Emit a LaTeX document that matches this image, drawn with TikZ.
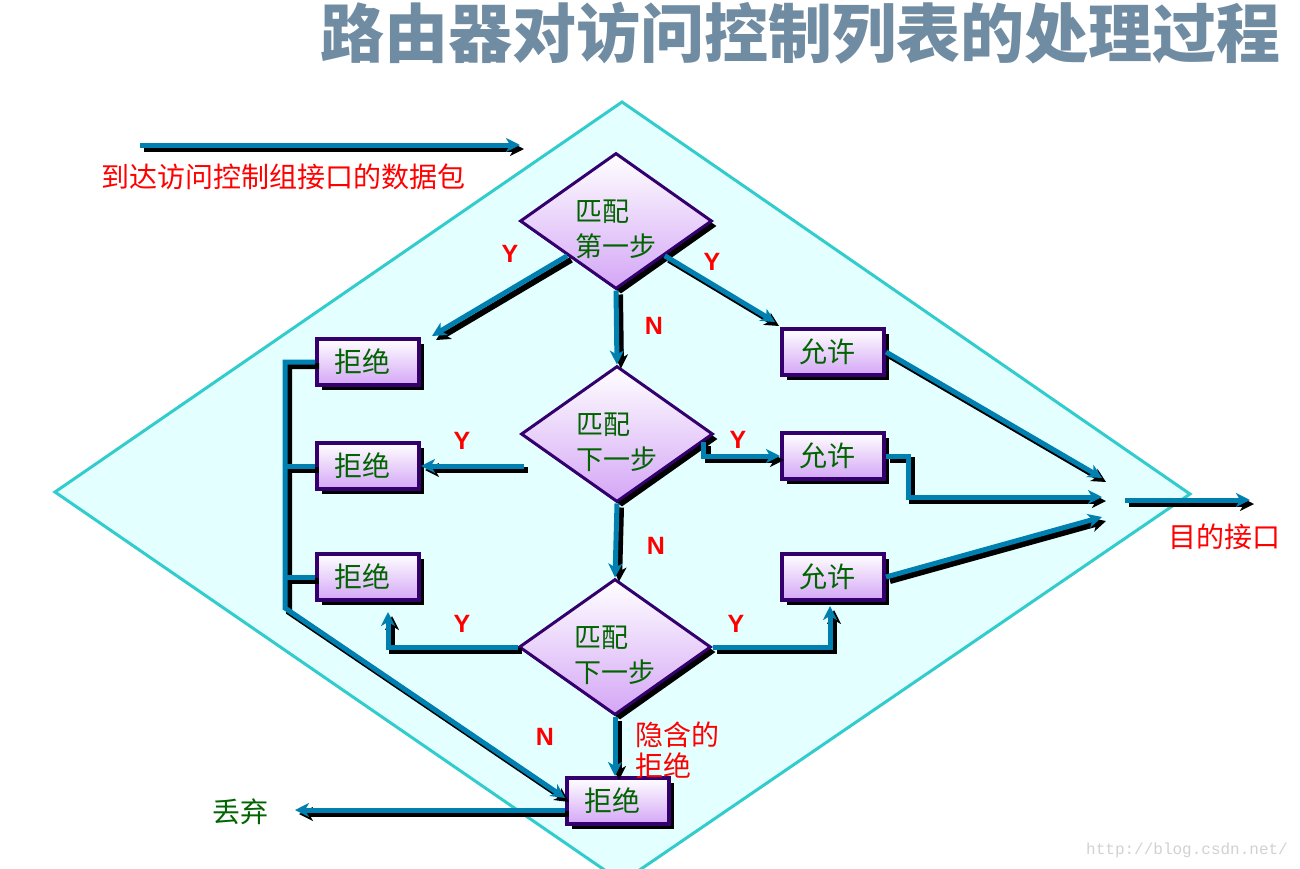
\documentclass[tikz,border=0pt]{standalone}
\usepackage{fontspec}
\usepackage{tikz}
\usetikzlibrary{shapes.geometric,shadows,arrows.meta,calc}
\newfontfamily\cjk{Noto Sans CJK SC}
\newfontfamily\lat{Liberation Sans}
\newfontfamily\wmfont{Liberation Mono}
\definecolor{flowblue}{RGB}{0,128,176}
\definecolor{boxpurple}{RGB}{51,0,110}
\definecolor{boxlilac}{RGB}{212,166,246}
\definecolor{leafgreen}{RGB}{0,100,0}
\definecolor{paleaqua}{RGB}{228,255,255}
\definecolor{edgeaqua}{RGB}{51,204,204}
\definecolor{titlegray}{RGB}{112,140,162}

\tikzset{
  test/.style={diamond,draw=boxpurple,line width=3pt,top color=white,bottom color=boxlilac,
    minimum width=192pt,minimum height=136pt,inner sep=0pt,
    drop shadow={shadow xshift=5pt,shadow yshift=-5pt,fill=black,opacity=1}},
  testtext/.style={align=left,text=leafgreen,font=\cjk\fontsize{27}{35}\selectfont,yshift=-8pt},
  verdict/.style={rectangle,draw=boxpurple,line width=4pt,top color=white,bottom color=boxlilac,
    minimum width=102pt,minimum height=46pt,inner sep=0pt,text=leafgreen,
    font=\cjk\fontsize{28}{28}\selectfont,
    drop shadow={shadow xshift=5pt,shadow yshift=-5pt,fill=black,opacity=1}},
  flow/.style={line width=5pt,draw=flowblue,-{Stealth[length=14pt,width=14pt,inset=4pt]},
    preaction={draw=black,line width=6pt,transform canvas={shift={(4pt,-4pt)}}}},
  bus/.style={line width=5pt,draw=flowblue,
    preaction={draw=black,line width=6pt,transform canvas={shift={(4pt,-4pt)}}}},
  yn/.style={text=red,font=\lat\bfseries\fontsize{25}{25}\selectfont},
  note/.style={text=red,font=\cjk\fontsize{28}{31}\selectfont},
}

\begin{document}
\begin{tikzpicture}[x=1pt,y=-1pt]
  \useasboundingbox (0,0) rectangle (1300,868);
  % Frame
  \begin{scope}
    \clip (0,0) rectangle (1300,868);
    \draw[edgeaqua,fill=paleaqua,line width=3pt] (622,102) -- (1190,494) -- (622,882) -- (55,492) -- cycle;
  \end{scope}
  % Title
  \node[text=titlegray,font=\cjk\bfseries\fontsize{64}{64}\selectfont] (title) at (800,33) {路由器对访问控制列表的处理过程};
  % Tests
  \node[test,label={[testtext]center:{匹配\\第一步}}] (d1) at (616,221) {};
  \node[test,label={[testtext]center:{匹配\\下一步}}] (d2) at (617,434) {};
  \node[test,label={[testtext]center:{匹配\\下一步}}] (d3) at (615,647) {};
  % Verdicts
  \node[verdict] (r1) at (368,362) {拒绝\hspace*{12pt}};
  \node[verdict] (r2) at (368,466) {拒绝\hspace*{12pt}};
  \node[verdict] (r3) at (368,577) {拒绝\hspace*{12pt}};
  \node[verdict] (r4) at (618,801) {拒绝\hspace*{12pt}};
  \node[verdict] (a1) at (833,352) {允许\hspace*{12pt}};
  \node[verdict] (a2) at (833,456) {允许\hspace*{12pt}};
  \node[verdict] (a3) at (833,577) {允许\hspace*{12pt}};
  % Free ends
  \coordinate (src) at (140,145);
  \coordinate (entry) at (520,145);
  \coordinate (tgt1) at (1102,478);
  \coordinate (jog) at (908,497);
  \coordinate (tgt2) at (1102,497);
  \coordinate (tgt3) at (1102,517);
  \coordinate (gate) at (1125,500);
  \coordinate (exit) at (1250,500);
  \coordinate (bus) at (285,608);
  \coordinate (dropend) at (295,810);
  % Flows
  \draw[flow] (src) -- (entry);
  \draw[flow] (d1.south) -- (d2.north);
  \draw[flow] (d1.south west) -- ($(r1.north east)+(11,-1)$);
  \draw[flow] (d1.south east) -- ($(a1.north west)+(-5,-5)$);
  \draw[flow] ($(d2.west |- r2.east)+(4,0)$) -- (r2.east);
  \draw[flow] ($(d2.east)+(-11,8)$) |- (a2.west);
  \draw[flow] (d2.south) -- (d3.north);
  \draw[flow] (d3.west) -| ($(r3.south)+(20,10)$);
  \draw[flow] (d3.east) -| ($(a3.south)+(-3,4)$);
  \draw[flow] (d3.south) -- (d3.south |- r4.north);
  \draw[flow] (a1.east) -- (tgt1);
  \draw[flow] (a2.east) -| (jog) -- (tgt2);
  \draw[flow] (a3.east) -- (tgt3);
  \draw[flow] (gate) -- (exit);
  \draw[flow] (r1.west) -| (bus) -- ($(r4.west)+(0,-3)$);
  \draw[bus] (r2.west) -- (r2.west -| bus);
  \draw[bus] (r3.west) -- (r3.west -| bus);
  \draw[flow] ($(r4.west)+(0,9)$) -- (dropend);
  % Y / N
  \node[yn] (y1) at (510,254) {Y};
  \node[yn] (y2) at (712,262) {Y};
  \node[yn] (n1) at (654,326) {N};
  \node[yn] (y3) at (462,441) {Y};
  \node[yn] (y4) at (738,440) {Y};
  \node[yn] (n2) at (656,546) {N};
  \node[yn] (y5) at (462,624) {Y};
  \node[yn] (y6) at (736,624) {Y};
  \node[yn] (n3) at (545,737) {N};
  % Labels
  \node[note] (inlbl) at (283,177) {到达访问控制组接口的数据包};
  \node[note] (outlbl) at (1224,537) {目的接口};
  \node[note,align=left,anchor=west] (implicit) at (632,750) {隐含的\\拒绝};
  \node[text=leafgreen,font=\cjk\fontsize{28}{28}\selectfont] (drop) at (240,812) {丢弃};
  \node[text=black!18,font=\wmfont\fontsize{16}{16}\selectfont] (wm) at (1187,850) {http://blog.csdn.net/};
\end{tikzpicture}
\end{document}
